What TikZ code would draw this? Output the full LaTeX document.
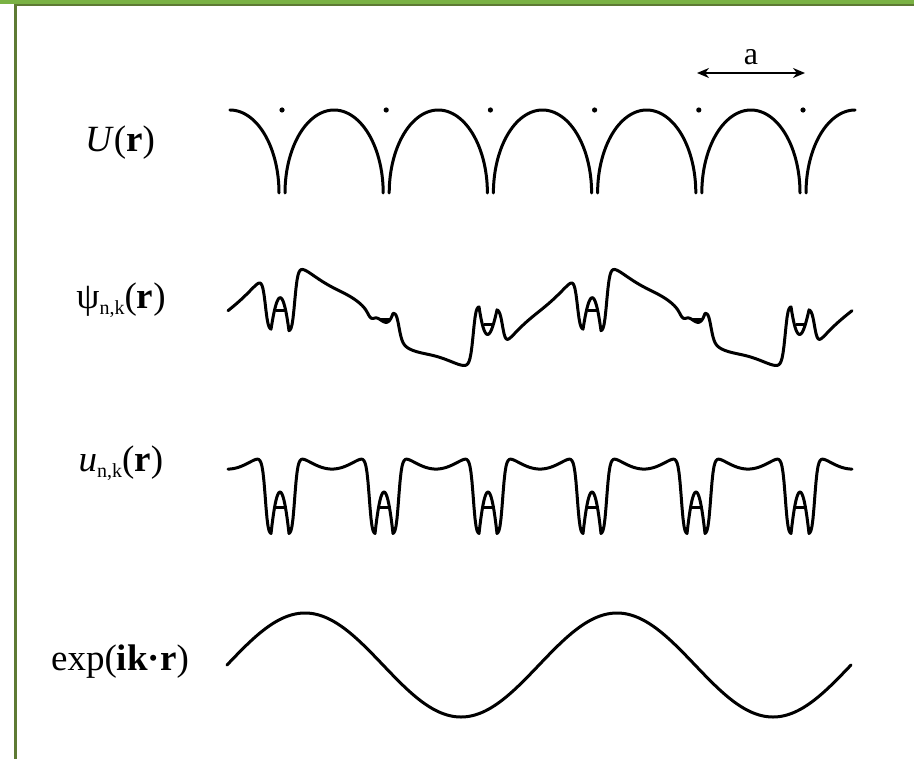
\documentclass[tikz,border=0pt]{standalone}
\usepackage{fontspec}
\setmainfont{Liberation Serif}
\usetikzlibrary{arrows.meta}

\definecolor{framegreen}{RGB}{122,178,68}
\definecolor{frameolive}{RGB}{94,122,52}

\newcommand{\subnk}{\raisebox{-0.4ex}{\fontsize{10}{11}\selectfont n,k}}

\tikzset{
  declare function={
    wellt(\s) = Mod(\s-228,104)-52;
    welltop(\t) = 459.8-9.2*cos(\t/104*360);
    wellq(\t) = min(\t*\t,900)/225;
    wellbox(\t) = 1/(1+wellq(\t)*wellq(\t)*wellq(\t)*wellq(\t)*wellq(\t));
    wellbump(\t) = 42*max(0,1-(\t/9)*(\t/9));
    ushape(\t) = welltop(\t)+(534-welltop(\t))*wellbox(\t)-wellbump(\t);
    uy(\p) = ushape(wellt(\p));
    wave(\w) = sin((\w-219)/312*360);
    psiy(\q) = 318-0.83*(518-uy(\q))*wave(\q);
    ey(\r) = 665-52*sin((\r-227)/312*360);
  },
  curve/.style={line width=1.5pt, line join=round, line cap=round},
  lbl/.style={anchor=base, font=\fontsize{18.5}{22}\selectfont},
  crossbar/.style={line width=1.5pt},
}

\begin{document}
\begin{tikzpicture}[x=0.5pt, y=-0.5pt]
  \useasboundingbox (0,0) rectangle (914,759);
  \fill[white] (0,0) rectangle (914,759);
  % slide frame
  \fill[framegreen] (0,0) rectangle (914,4.5);
  \fill[frameolive] (14,4) rectangle (914,6.5);
  \fill[frameolive] (14,4) rectangle (16.5,759);

  % labels
  \node[lbl] (lblU) at (120,152) {\textit{U}(\textbf{r})};
  \node[lbl] (lblPsi) at (121,308) {ψ\subnk(\textbf{r})};
  \node[lbl] (lblUnk) at (121,471) {\textit{u}\subnk(\textbf{r})};
  \node[lbl] (lblExp) at (120,670) {exp(\textbf{ik·r})};

  % lattice constant
  \node[anchor=base, font=\fontsize{16}{18}\selectfont] (lblA) at (751,65) {a};
  \coordinate (aL) at (697,73);
  \coordinate (aR) at (805,73);
  \draw[{Stealth[length=6pt,width=5pt]}-{Stealth[length=6pt,width=5pt]}, line width=0.9pt] (aL) -- (aR);

  % U(r)
  \draw[curve] plot[domain=90:0, samples=40] ({229.9+49.1*cos(\x)}, {193-83*sin(\x)});
  \foreach \i in {0,...,4}
    \draw[curve] plot[domain=180:0, samples=60] ({282+104.2*\i+52.1+49.1*cos(\x)}, {193-83*sin(\x)});
  \draw[curve] plot[domain=180:90, samples=40] ({855.1+49.1*cos(\x)}, {193-83*sin(\x)});
  \foreach \i in {0,...,5}
    \fill (282+104.2*\i,110) circle[radius=1.3pt];

  % psi_nk(r)
  \draw[curve] plot[domain=228:852, samples=625] (\x, {psiy(\x)});
  \foreach \i in {0,...,5}
    \draw[crossbar] ({280+104*\i-4.5}, {318-8.3*wave(280+104*\i)}) -- ++(9,0);

  % u_nk(r)
  \draw[curve] plot[domain=228:852, samples=625] (\x, {uy(\x)});
  \foreach \i in {0,...,5}
    \draw[crossbar] ({280+104*\i-4.5},507) -- ++(9,0);

  % exp(ik.r)
  \draw[curve] plot[domain=227:851, samples=313] (\x, {ey(\x)});
\end{tikzpicture}
\end{document}
